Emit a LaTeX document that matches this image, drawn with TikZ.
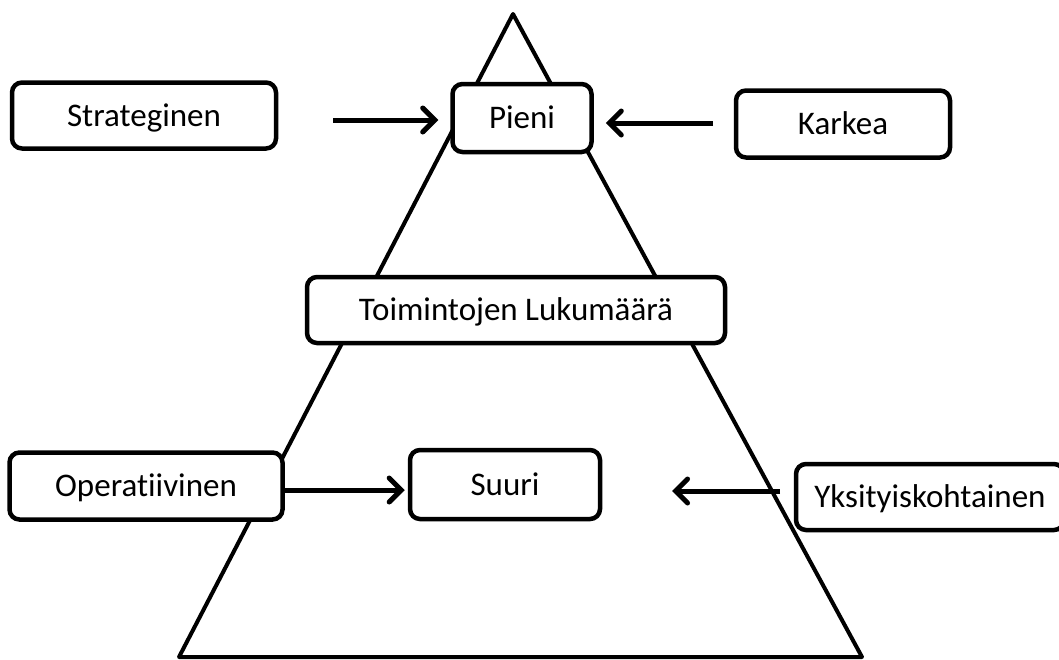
\documentclass[tikz,border=0pt]{standalone}
\usepackage{fontspec}
\setmainfont{Carlito}[Ligatures={NoCommon,NoContextual}]
\usetikzlibrary{arrows.meta}
\begin{document}
\begin{tikzpicture}[x=1pt,y=-1pt,
  box/.style={draw=black,line width=4.5pt,fill=white,rounded corners=10pt,
    font=\fontsize{33}{38}\selectfont,inner sep=0pt,text height=21pt,text depth=0pt},
  arr/.style={line width=5pt,-{Straight Barb[length=12pt,width=24pt,line cap=round]}},
  tri/.style={draw=black,line width=4pt,line join=round}]
\useasboundingbox (0,0) rectangle (1059,659);
\coordinate (apex) at (513,14);
\coordinate (bl) at (179,657);
\coordinate (br) at (862,657);
\draw[tri] (apex) -- (bl) -- (br) -- cycle;
\node[box,minimum width=264pt,minimum height=66pt] (strat) at (144,115.5) {Strateginen};
\node[box,minimum width=139pt,minimum height=68pt] (pieni) at (522,118) {Pieni};
\node[box,minimum width=214pt,minimum height=67pt] (karkea) at (843,124) {Karkea};
\node[box,minimum width=418pt,minimum height=66pt] (toim) at (516,310) {Toimintojen Lukumäärä};
\node[box,minimum width=273pt,minimum height=67pt] (oper) at (146,486) {Operatiivinen};
\node[box,minimum width=190pt,minimum height=69pt] (suuri) at (505,484.5) {Suuri};
\node[box,minimum width=268pt,minimum height=66pt] (yksi) at (930,497) {Yksityiskohtainen};
\coordinate (a1s) at (333,120);
\coordinate (a2s) at (713,123);
\coordinate (a4s) at (780,491);
\coordinate (a4e) at (672,491);
\draw[arr] (a1s) -- ([xshift=-12pt]pieni.west |- a1s);
\draw[arr] (a2s) -- ([xshift=12pt]pieni.east |- a2s);
\draw[arr] (oper.east |- 0,490) -- ([xshift=-3pt]suuri.west |- 0,490);
\draw[arr] (a4s) -- (a4e);
\end{tikzpicture}
\end{document}
